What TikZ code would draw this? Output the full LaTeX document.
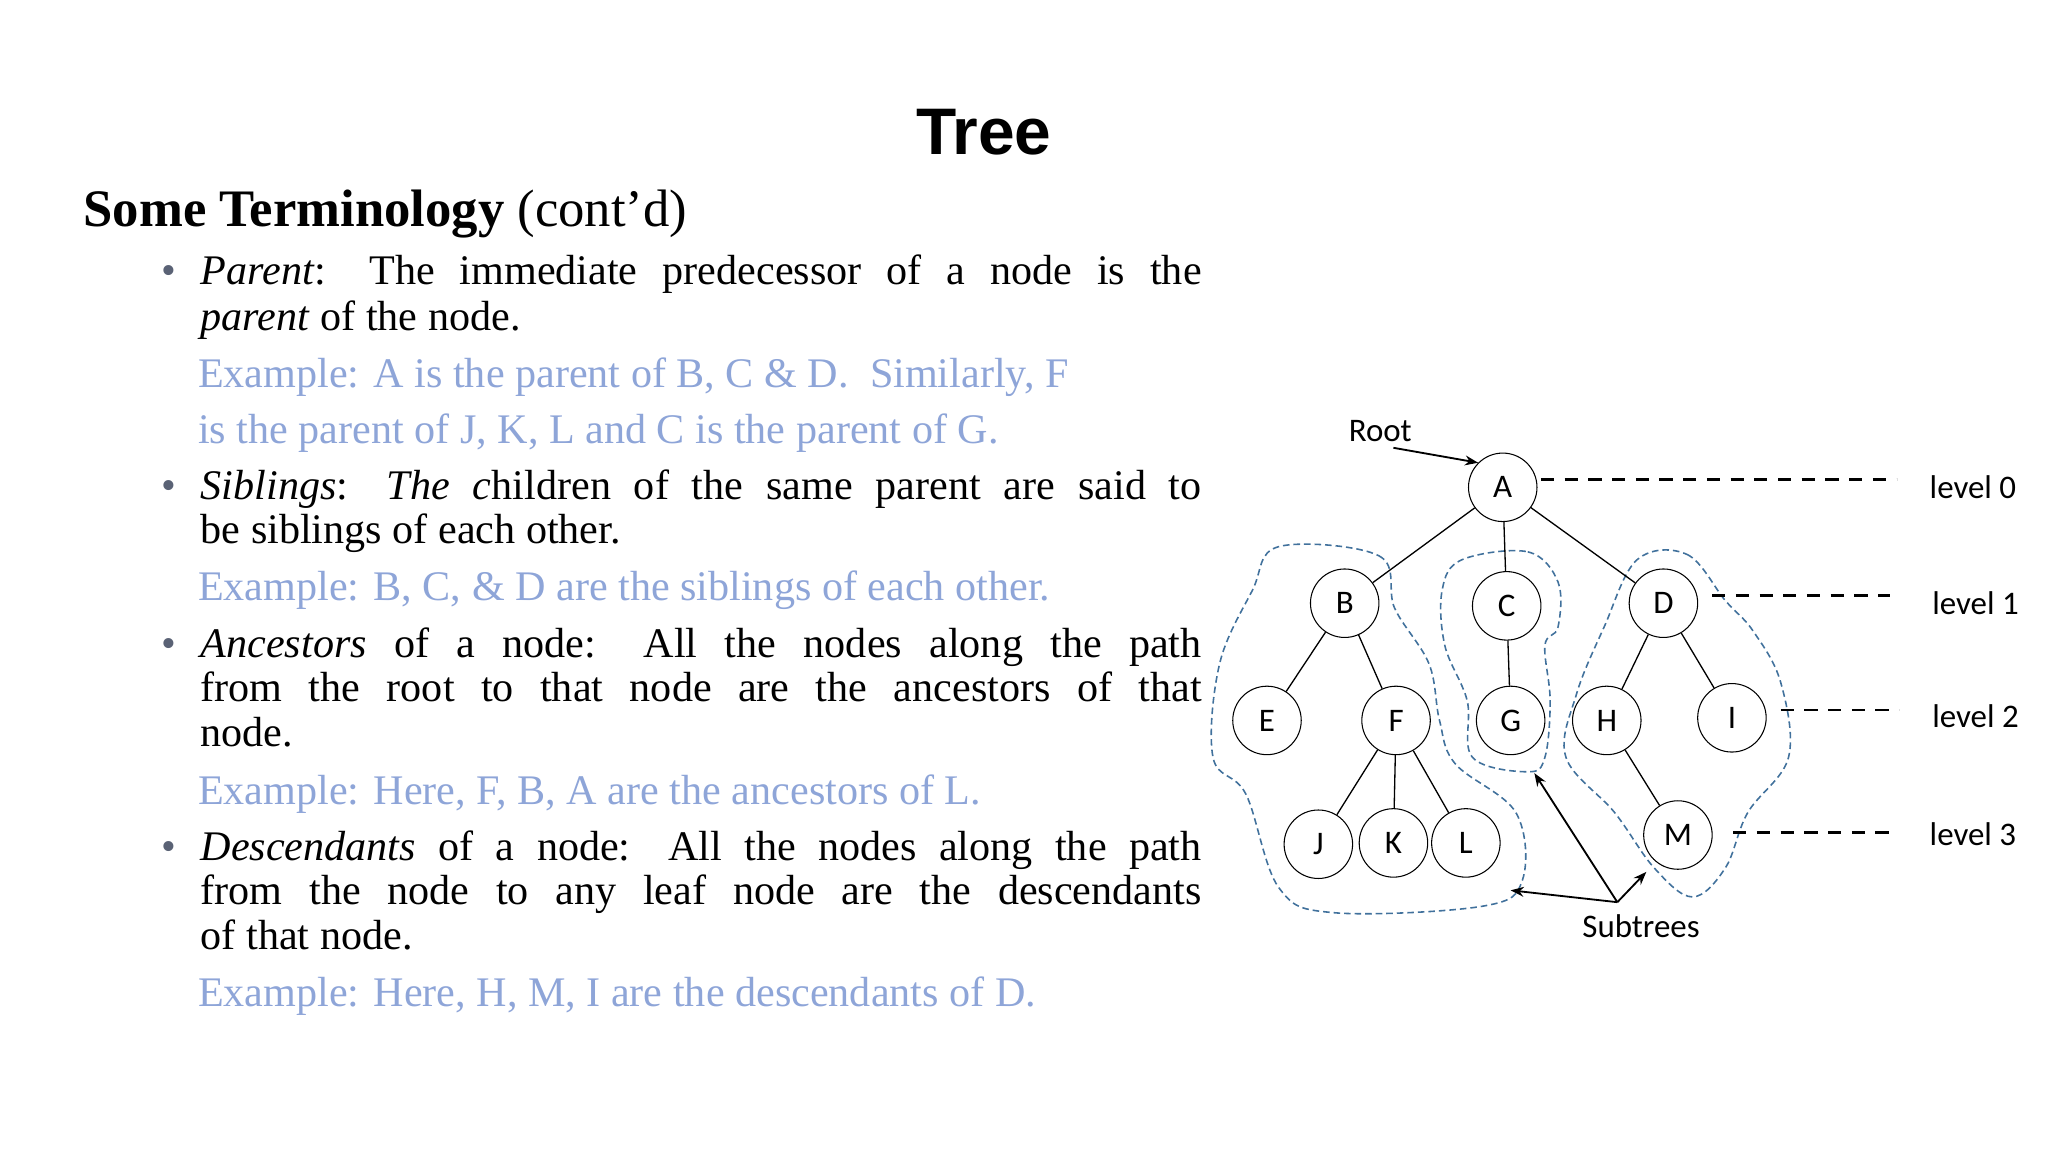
\documentclass[tikz,border=0pt]{standalone}
\usepackage{fontspec}
\setmainfont{Liberation Serif}
\newfontfamily\lsans{Liberation Sans}
\newfontfamily\calfont{Carlito}
\usetikzlibrary{arrows.meta}
\definecolor{exblue}{HTML}{8EA5D8}
\definecolor{blobblue}{HTML}{41719C}
\definecolor{bul}{HTML}{5A6275}
\tikzset{
 tn/.style={draw,circle,minimum width=25pt,minimum height=26pt,inner sep=0pt,font=\calfont\fontsize{12.5}{14}\selectfont},
 edge/.style={line width=0.5pt},
 lvl/.style={dashed,line width=0.9pt,dash pattern=on 5pt off 4pt},
 lab/.style={font=\calfont\fontsize{12.5}{14}\selectfont},
 blob/.style={draw=blobblue,dashed,dash pattern=on 2.5pt off 1.5pt,line width=0.6pt},
 tl/.style={anchor=base west,inner sep=0pt,font=\fontsize{16}{19}\selectfont},
 ex/.style={tl,text=exblue},
 bl/.style={anchor=base,inner sep=0pt,text=bul,font=\fontsize{16}{19}\selectfont},
 arr/.style={-{Stealth[length=5pt]},line width=0.7pt}
}
\newcommand{\fw}[1]{\makebox[380pt][s]{#1}}
\begin{document}
\begin{tikzpicture}[x=0.5pt,y=-0.5pt]
\useasboundingbox (0,0) rectangle (1555,875);
\node[font=\lsans\bfseries\fontsize{25}{28}\selectfont] (title) at (747,100) {Tree};
\node[anchor=base west,inner sep=0pt,font=\fontsize{20}{24}\selectfont] (st) at (63,172) {\textbf{Some Terminology} (cont’d)};
\node[bl] (b1) at (128,216) {•};
\node[tl] (l1) at (152,216) {\fw{\textit{Parent}: The immediate predecessor of a node is the}};
\node[tl] (l2) at (152,251) {\textit{parent} of the node.};
\node[ex] (e1) at (150,294) {Example: A is the parent of B, C \& D.\ \ Similarly, F};
\node[ex] (e2) at (150,337) {is the parent of J, K, L and C is the parent of G.};
\node[bl] (b2) at (128,379) {•};
\node[tl] (l3) at (152,379) {\fw{\textit{Siblings}: \textit{The c}hildren of the same parent are said to}};
\node[tl] (l4) at (152,413) {be siblings of each other.};
\node[ex] (e3) at (150,456) {Example: B, C, \& D are the siblings of each other.};
\node[bl] (b3) at (128,499) {•};
\node[tl] (l5) at (152,499) {\fw{\textit{Ancestors} of a node: All the nodes along the path}};
\node[tl] (l6) at (152,533) {\fw{from the root to that node are the ancestors of that}};
\node[tl] (l7) at (152,567) {node.};
\node[ex] (e4) at (150,611) {Example: Here, F, B, A are the ancestors of L.};
\node[bl] (b4) at (128,653) {•};
\node[tl] (l8) at (152,653) {\fw{\textit{Descendants} of a node: All the nodes along the path}};
\node[tl] (l9) at (152,687) {\fw{from the node to any leaf node are the descendants}};
\node[tl] (l10) at (152,721) {of that node.};
\node[ex] (e5) at (150,764) {Example: Here, H, M, I are the descendants of D.};
% blobs
\draw[blob] plot[smooth cycle,tension=0.6] coordinates {(971,415)(1047,422)(1059,462)(1085,504)(1093,547)(1105,580)(1151,617)(1156,668)(1126,688)(1013,693)(971,674)(946,603)(921,575)(926,504)(951,448)};
\draw[blob] plot[smooth cycle,tension=0.6] coordinates {(1110,425)(1160,419)(1183,442)(1183,476)(1173,490)(1177,532)(1173,575)(1160,586)(1118,575)(1114,532)(1097,490)(1095,448)};
\draw[blob] plot[smooth cycle,tension=0.6] coordinates {(1243,425)(1281,421)(1310,456)(1331,479)(1352,518)(1358,575)(1327,617)(1310,659)(1285,681)(1256,659)(1226,617)(1189,575)(1197,527)(1218,476)};
% tree
\node[tn] (A) at (1141,370) {A};
\node[tn] (B) at (1021,458) {B};
\node[tn] (C) at (1144,460) {C};
\node[tn] (D) at (1263,458) {D};
\node[tn] (E) at (962,547) {E};
\node[tn] (F) at (1060,547) {F};
\node[tn] (G) at (1147,547) {G};
\node[tn] (H) at (1220,547) {H};
\node[tn] (I) at (1315,545) {I};
\node[tn] (J) at (1001,641) {J};
\node[tn] (K) at (1058,640) {K};
\node[tn] (L) at (1113,640) {L};
\node[tn] (M) at (1274,634) {M};
\foreach \a/\b in {A/B,A/C,A/D,B/E,B/F,C/G,D/H,D/I,F/J,F/K,F/L,H/M} \draw[edge] (\a) -- (\b);
% levels
\coordinate (q0) at (1440,364); \coordinate (q1) at (1435,452); \coordinate (q2) at (1442,539); \coordinate (q3) at (1440,632);
\coordinate (p0) at (1170,364); \coordinate (p1) at (1300,452); \coordinate (p2) at (1352,539); \coordinate (p3) at (1316,632);
\draw[lvl] (p0) -- (q0);
\draw[lvl] (p1) -- (q1);
\draw[lvl] (p2) -- (q2);
\draw[lvl] (p3) -- (q3);
\node[lab] (lv0) at (1498,370) {level 0};
\node[lab] (lv1) at (1500,458) {level 1};
\node[lab] (lv2) at (1500,544) {level 2};
\node[lab] (lv3) at (1498,633) {level 3};
\node[lab] (root) at (1048,327) {Root};
\coordinate (r0) at (1058,340);
\draw[arr] (r0) -- (A.north west);
\node[lab] (sub) at (1246,703) {Subtrees};
\coordinate (s0) at (1228,685);
\coordinate (t1) at (1165,587); \coordinate (t2) at (1250,662); \coordinate (t3) at (1147,676);
\draw[arr] (s0) -- (t1);
\draw[arr] (s0) -- (t2);
\draw[arr] (s0) -- (t3);
\end{tikzpicture}
\end{document}
